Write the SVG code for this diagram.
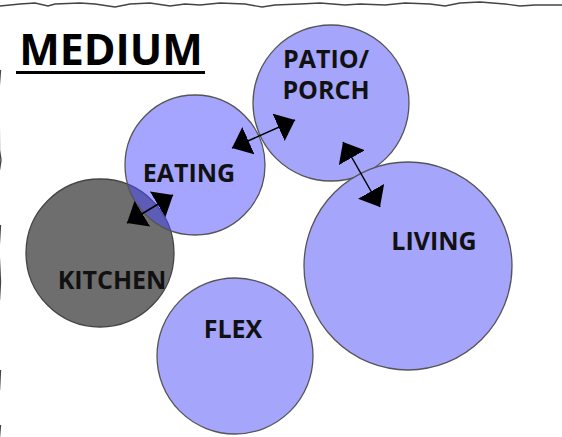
<svg xmlns="http://www.w3.org/2000/svg" width="562" height="437" viewBox="0 0 562 437">
<defs>
<style>
.room{fill:#a5a5fc;stroke:#555;stroke-width:1.3}
.lbl{font-family:"Open Sans","Noto Sans",sans-serif;font-weight:700;font-size:25px;fill:#111;text-anchor:middle}
.conn{stroke:#000;stroke-width:1.5;fill:none;marker-start:url(#ah);marker-end:url(#ah)}
.border{fill:none;stroke:#444;stroke-width:1.4}
</style>
<marker id="ah" markerUnits="userSpaceOnUse" viewBox="0 0 18 30" refX="18" refY="15" markerWidth="18" markerHeight="30" orient="auto-start-reverse">
<path d="M0,0 L18,15 L0,30 z" fill="#000"/>
</marker>
</defs>
<rect width="562" height="437" fill="#fff"/>
<g id="border">
<path class="border" d="M0,6 L20,4 L35,3 L48,6 L55,4 L80,3 L95,4 L115,7 L130,4 L150,3 L170,6 L185,4 L200,5 L220,3 L245,4 L262,7 L275,5 L300,4 L320,3 L345,5 L360,4 L385,5 L405,3 L430,4 L445,6 L460,3 L480,2 L505,4 L520,6 L535,5 L562,5"/>
<path class="border" d="M0.5,70 L-1,90 L-0.5,150 L1,160 L-0.5,170 M0.5,225 L-1,250 L0.5,282 L-0.5,300 M0.5,370 L-0.5,390 M0.5,425 L-0.5,437"/>
</g>
<g id="title">
<text x="111" y="65" style="font-family:'Open Sans','Noto Sans',sans-serif;font-weight:700;font-size:43px;fill:#000;text-anchor:middle">MEDIUM</text>
<rect x="16" y="71" width="189" height="3" fill="#000"/>
</g>
<g id="kitchen">
<circle cx="100" cy="253" r="74" fill="#6e6e6e" stroke="#444" stroke-width="1.3"/>
<text class="lbl" x="112" y="289">KITCHEN</text>
</g>
<g id="eating">
<circle cx="195" cy="165" r="70" fill="#4b4bff" fill-opacity="0.5" stroke="#555" stroke-width="1.3"/>
<text class="lbl" x="189" y="182">EATING</text>
</g>
<g id="patio">
<circle class="room" cx="331" cy="103" r="78"/>
<text class="lbl" x="326" y="68">PATIO/</text>
<text class="lbl" x="326" y="99">PORCH</text>
</g>
<g id="living">
<circle class="room" cx="408" cy="266" r="104"/>
<text class="lbl" x="434" y="250">LIVING</text>
</g>
<g id="flex">
<circle class="room" cx="235" cy="356" r="78"/>
<text class="lbl" x="233" y="338">FLEX</text>
</g>
<g id="connectors">
<line class="conn" x1="127" y1="223" x2="173" y2="195"/>
<line class="conn" x1="232" y1="148" x2="295" y2="120"/>
<line class="conn" x1="343" y1="142" x2="380" y2="207"/>
</g>
</svg>
